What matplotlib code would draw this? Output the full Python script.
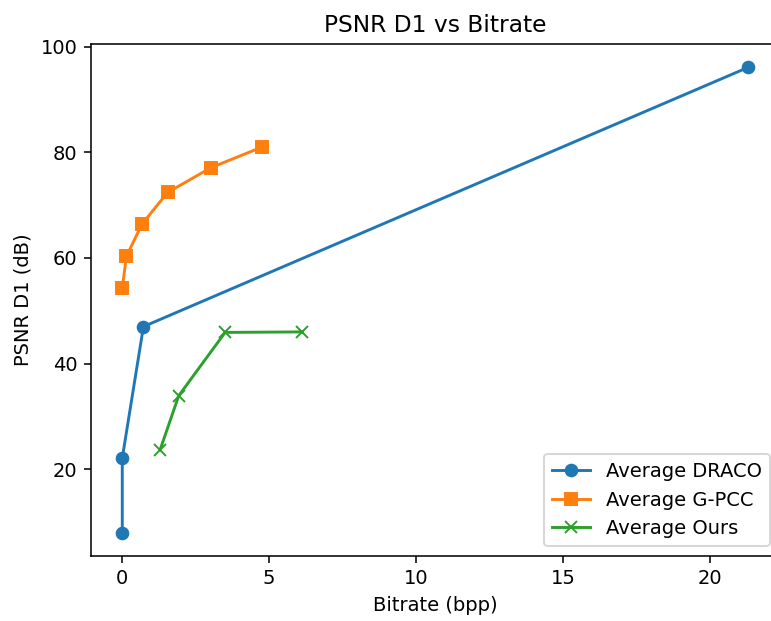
import matplotlib
matplotlib.use("Agg")
import matplotlib.pyplot as plt

# average rate-distortion points per codec
draco_bpp = [0.0, 0.0, 0.72, 21.3]
draco_psnr = [8.0, 22.1, 47.0, 96.1]

gpcc_bpp = [0.0, 0.14, 0.67, 1.54, 3.02, 4.75]
gpcc_psnr = [54.3, 60.3, 66.4, 72.4, 77.1, 81.0]

ours_bpp = [1.29, 1.92, 3.50, 6.13]
ours_psnr = [23.7, 33.9, 45.9, 46.0]

dpi = 140
fig = plt.figure(figsize=(771 / dpi, 621 / dpi), dpi=dpi)
# axes run slightly past the right edge of the canvas
ax = fig.add_axes([0.118, 0.105, 0.893, 0.824])
ax.spines['right'].set_visible(False)

ax.plot(draco_bpp, draco_psnr, marker='o', label='Average DRACO')
ax.plot(gpcc_bpp, gpcc_psnr, marker='s', label='Average G-PCC')
ax.plot(ours_bpp, ours_psnr, marker='x', label='Average Ours')

ax.set_title('PSNR D1 vs Bitrate')
ax.set_xlabel('Bitrate (bpp)')
ax.set_ylabel('PSNR D1 (dB)')
ax.legend(loc='lower right')

fig.savefig('out.png', dpi=dpi)
